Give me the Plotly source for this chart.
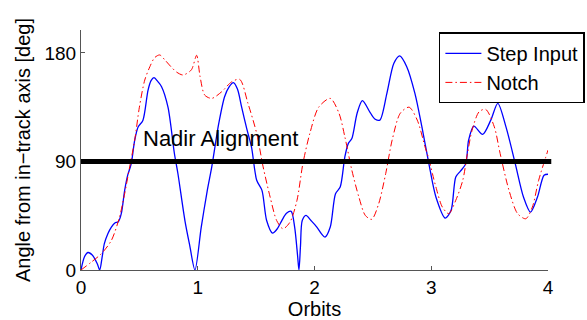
import plotly.graph_objects as go

# ---- data ----
step_x = [0, 0.03, 0.06, 0.10, 0.14, 0.16, 0.18, 0.20, 0.23, 0.26, 0.29, 0.32, 0.345, 0.374, 0.40,
          0.43, 0.46, 0.49, 0.53, 0.574, 0.60, 0.625, 0.66, 0.69, 0.745, 0.80, 0.83, 0.89, 0.93,
          0.976, 1.03, 1.08, 1.12, 1.18, 1.23, 1.27, 1.305, 1.34, 1.376, 1.42, 1.46, 1.505, 1.55,
          1.59, 1.64, 1.68, 1.72, 1.76, 1.80, 1.83, 1.855, 1.867, 1.88, 1.895, 1.927, 1.97, 2.02,
          2.06, 2.09, 2.135, 2.18, 2.22, 2.26, 2.29, 2.32, 2.365, 2.41, 2.48, 2.52, 2.56, 2.62,
          2.68, 2.73, 2.79, 2.86, 2.92, 2.98, 3.04, 3.12, 3.17, 3.21, 3.25, 3.295, 3.32, 3.365,
          3.44, 3.51, 3.57, 3.64, 3.72, 3.79, 3.85, 3.91, 3.966, 4.0]
step_y = [0, 11, 14.5, 12, 5, 0, 10, 21.8, 30, 35.6, 39, 40, 46.7, 66, 78.6,
          88, 107.7, 118.7, 124, 149, 157, 159.5, 156, 152, 135, 96.6, 80, 41, 21,
          0, 35.6, 65, 85.5, 121.5, 143.7, 152, 155.3, 150, 135, 117, 102, 74.4, 66,
          41, 30.6, 34, 41, 47, 48.6, 35.6, 12, 0, 20, 41, 45.3, 41, 35.6,
          30, 27.3, 35.6, 63.3, 68.8, 93.8, 105, 109, 130, 140.4, 130, 125, 124.3, 146.5,
          171.4, 177.5, 168.6, 146.5, 118.7, 88, 60.5, 43, 49.5, 77.2, 82, 88, 107.7, 119.3,
          112.4, 124.3, 138.2, 118.7, 88, 60.5, 48, 60.5, 78.6, 79.4]

notch_x = [0, 0.088, 0.174, 0.26, 0.33, 0.374, 0.417, 0.46, 0.50, 0.546, 0.59, 0.63, 0.674, 0.72,
           0.77, 0.82, 0.874, 0.945, 0.99, 1.02, 1.06, 1.12, 1.205, 1.29, 1.36, 1.43, 1.505, 1.56,
           1.62, 1.676, 1.73, 1.79, 1.85, 1.90, 1.96, 2.036, 2.135, 2.21, 2.26, 2.32, 2.38, 2.435,
           2.49, 2.55, 2.61, 2.665, 2.735, 2.81, 2.88, 2.95, 2.98, 3.01, 3.04, 3.095, 3.15, 3.21,
           3.27, 3.31, 3.35, 3.41, 3.466, 3.54, 3.59, 3.666, 3.74, 3.81, 3.866, 3.92, 4.0]
notch_y = [0, 6.5, 13.5, 24.5, 44, 63.3, 85.5, 107.7, 135, 157.5, 168.6, 176, 178.3, 174,
           168.6, 164, 161.7, 165.9, 178, 160.3, 145, 142.3, 147.8, 156, 158, 138.2, 113.2, 85.5,
           60.5, 41, 34.2, 39.7, 57.8, 88, 113.2, 135, 142.3, 129.9, 110.4, 82.7, 60.5, 45.3,
           42, 55, 80, 107.7, 130, 135, 124.3, 101, 92, 80, 68.8, 52.2, 46.7, 57.8,
           74.4, 96.6, 116, 131.2, 133.2, 118.7, 96.6, 66, 46.7, 42.5, 52.2, 74.4, 99.4]

NADIR_ANGLE = 90
NADIR_LABEL = "Nadir Alignment"
x_ticks = [0, 1, 2, 3, 4]
y_ticks = [0, 90, 180]

FONT = "Liberation Sans, Arial, sans-serif"
AXIS_COLOR = "#555555"

fig = go.Figure()
fig.add_trace(go.Scatter(x=step_x, y=step_y, mode="lines", name="Step Input",
                         line=dict(color="#0000ff", width=1.3, shape="spline", smoothing=0.8)))
fig.add_trace(go.Scatter(x=notch_x, y=notch_y, mode="lines", name="Notch",
                         line=dict(color="#ff0000", width=1, dash="7px,3px,1.5px,3px",
                                   shape="spline", smoothing=0.8)))

fig.add_shape(type="line", xref="paper", yref="y", x0=0, x1=1.007,
              y0=NADIR_ANGLE, y1=NADIR_ANGLE, line=dict(color="black", width=5), layer="above")

fig.add_annotation(x=1.195, y=109, xref="x", yref="y", text=NADIR_LABEL, showarrow=False,
                   font=dict(size=22, color="black", family=FONT))

fig.update_layout(
    width=587, height=320,
    margin=dict(l=81, r=39, t=30, b=50, autoexpand=False),
    paper_bgcolor="white", plot_bgcolor="white",
    font=dict(family=FONT, size=19, color="black"),
    showlegend=True,
    legend=dict(x=1.079, y=0.99, xanchor="right", yanchor="top",
                bgcolor="white", bordercolor="black", borderwidth=1.5,
                itemwidth=36,
                font=dict(size=20, family=FONT), tracegroupgap=0),
)
fig.update_xaxes(range=[0, 4], tickvals=x_ticks, ticktext=[str(v) for v in x_ticks],
                 showgrid=False, zeroline=False, showline=True, linecolor=AXIS_COLOR, linewidth=1,
                 ticks="inside", ticklen=4, tickcolor=AXIS_COLOR,
                 title=dict(text="Orbits", font=dict(size=20), standoff=2))
fig.update_yaxes(range=[0, 199], tickvals=y_ticks, ticktext=[str(v) for v in y_ticks],
                 showgrid=False, zeroline=False, showline=True, linecolor=AXIS_COLOR, linewidth=1,
                 ticks="inside", ticklen=4, tickcolor=AXIS_COLOR,
                 title=dict(text="Angle from in\u2212track axis [deg]", font=dict(size=20), standoff=8))

fig.write_html("out.html")
